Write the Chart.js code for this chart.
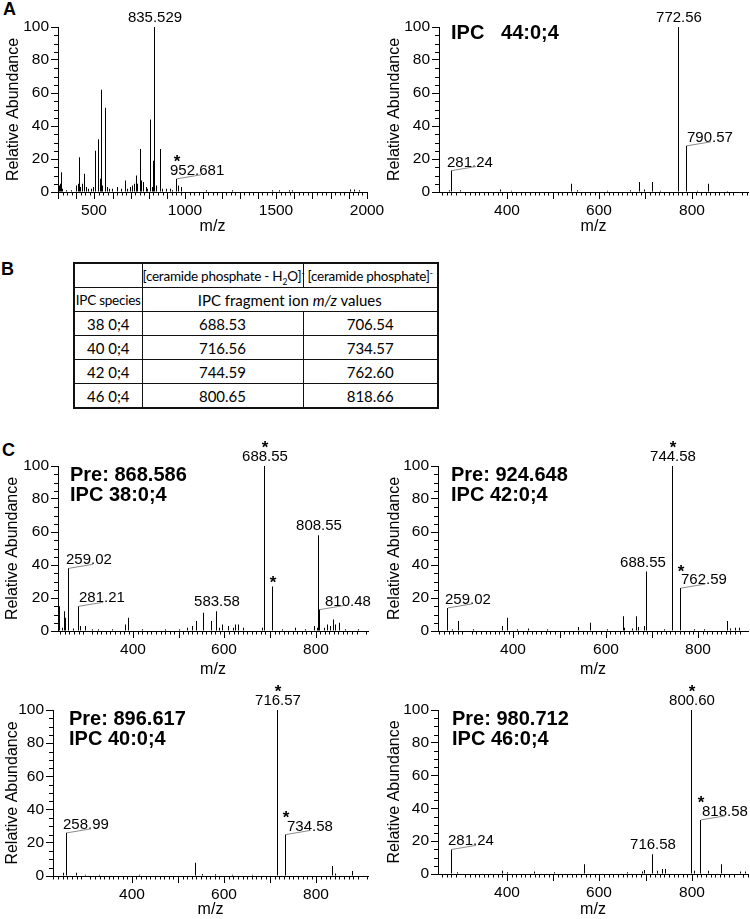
<!DOCTYPE html>
<html>
<head>
<meta charset="utf-8">
<script src="https://cdn.jsdelivr.net/npm/chart.js@4.4.1/dist/chart.umd.min.js"></script>
<style>
  body { margin: 0; background: #fff; width: 750px; height: 919px; position: relative; overflow: hidden;
         font-family: "Liberation Sans", Arial, sans-serif; }
  .panel { position: absolute; }
  .tag { position: absolute; font-weight: bold; font-size: 18px; line-height: 18px; }
  #ipc { position: absolute; left: 73px; top: 262px; width: 364px; table-layout: fixed; border-collapse: collapse;
         border: 2px solid #111; font-family: Lato, "Open Sans", sans-serif; font-size: 15px; }
  #ipc td { border: 1.5px solid #111; height: 23px; padding: 0; text-align: center; white-space: nowrap; }
  #ipc td.tight { font-size: 13.5px; letter-spacing: -0.25px; }
  #ipc sub, #ipc sup { font-size: 8.5px; line-height: 0; letter-spacing: 0; }
</style>
</head>
<body>
<div class="tag" style="left:3px;top:0px">A</div>
<div class="tag" style="left:1px;top:260px">B</div>
<div class="tag" style="left:2px;top:441px">C</div>

<div class="panel" style="left:0;top:0"><canvas id="aLeft" width="395" height="240"></canvas></div>
<div class="panel" style="left:375px;top:0"><canvas id="aRight" width="375" height="240"></canvas></div>

<table id="ipc">
  <colgroup><col style="width:68px"><col style="width:161px"><col style="width:135px"></colgroup>
  <tr><td></td><td class="tight">[ceramide phosphate - H<sub>2</sub>O]<sup>-</sup></td><td class="tight">[ceramide phosphate]<sup>-</sup></td></tr>
  <tr><td class="tight">IPC species</td><td colspan="2">IPC fragment ion <i>m/z</i> values</td></tr>
</table>

<div class="panel" style="left:0;top:435px"><canvas id="cTL" width="375" height="245"></canvas></div>
<div class="panel" style="left:375px;top:435px"><canvas id="cTR" width="375" height="245"></canvas></div>
<div class="panel" style="left:0;top:680px"><canvas id="cBL" width="375" height="239"></canvas></div>
<div class="panel" style="left:375px;top:680px"><canvas id="cBR" width="375" height="239"></canvas></div>

<script>
// ---- A: full scan (left) and MS2 of IPC 44:0;4 (right)
const aLeftMz = [312, 317, 321, 330, 349, 376, 407, 414, 422, 429, 436, 451, 462, 473, 486, 500, 510, 528, 535, 541,
  550, 565, 574, 587, 605, 632, 651, 673, 685, 700, 711, 724, 733, 742, 757, 764, 773, 788, 797, 810,
  821, 826, 835.529, 847, 867, 879, 898, 920, 934, 952.681, 967, 980, 1117, 1264, 1483, 1520, 1575, 1593, 1913, 1932, 1959];
const aLeftAb = [4, 5, 12, 2, 1, 1, 4, 5, 21, 3, 5, 11, 3, 2, 2, 3, 25, 32, 8, 62,
  4, 51, 3, 2, 2, 3, 2, 7, 2, 3, 4, 5, 10, 5, 26, 7, 6, 3, 2, 44,
  3, 19, 100, 4, 26, 2, 2, 2, 1, 8, 4, 3, 1, 1, 1, 1, 1, 1, 1.5, 1.5, 1];
const aLeftLabels = ['835.529', '952.681'];
const aLeftStars = ['952.681'];

const aRightMz = [276, 281.24, 300, 388, 410, 541.7, 554.7, 619, 669.4, 688.2, 699.7, 717, 734, 772.56, 790.57, 813.7, 837.5, 878.6];
const aRightAb = [1, 13, 1, 1.5, 0.8, 5, 1, 0.7, 1, 6, 1.5, 6, 0.8, 100, 28, 0.8, 5, 0.6];
const aRightLabels = ['772.56', '790.57', '281.24'];
const aRightStars = [];

// ---- B: fragment ion table
const species = ['38 0;4', '40 0;4', '42 0;4', '46 0;4'];
const lossWater = [688.53, 716.56, 744.59, 800.65];
const phosphate = [706.54, 734.57, 762.60, 818.66];

// ---- C: MS2 spectra of four precursors
const tlMz = [238.7, 246, 250.4, 253.3, 259.02, 269, 281.21, 284.7, 295.7, 311.8, 326, 355.6, 384.9, 390.7, 421, 472.6, 502, 520, 531, 539.8,
  554.4, 572, 583.58, 591, 596.8, 610.7, 620, 626, 633, 644, 684.6, 688.55, 706.5, 728.4, 758, 779.6, 798, 805, 808.55, 810.48,
  820, 827, 833, 840, 845, 854, 867, 896];
const tlAb = [15, 2, 12, 8, 38, 1.5, 15, 3, 3, 1, 1, 1, 4, 8, 1, 1, 1, 2, 3, 6,
  11, 6, 12, 2, 4, 3, 2, 4, 4, 2, 2, 100, 27, 1, 2, 1, 3, 2, 58, 13,
  2, 4, 3, 7, 4, 5, 1, 1];
const tlLabels = ['688.55', '808.55', '810.48', '583.58', '259.02', '281.21'];
const tlStars = ['688.55', '706.5'];

const trMz = [259.02, 269.5, 282.5, 316, 377.7, 388.5, 410, 433, 475, 541.5, 569, 605, 640, 642.6, 659, 668.5, 671.3, 685.8, 688.55, 727.6,
  744.58, 762.59, 792.6, 814, 865, 872, 882.7, 890];
const trAb = [14, 1, 6, 1, 3, 8, 1, 1.5, 1, 2.5, 5, 1, 9, 2, 1.5, 9, 2.5, 3, 36, 1,
  100, 26, 1, 1, 6, 1.5, 2, 2];
const trLabels = ['744.58', '688.55', '762.59', '259.02'];
const trStars = ['744.58', '762.59'];

const blMz = [253.6, 258.99, 281, 301, 330, 417, 539, 554, 581.8, 619, 662.7, 716.57, 734.58, 836, 843, 879.6];
const blAb = [2, 26, 2, 0.8, 0.8, 0.8, 8, 1.2, 1, 0.8, 0.8, 100, 25, 6, 1.5, 3];
const blLabels = ['716.57', '734.58', '258.99'];
const blStars = ['716.57', '734.58'];

const brMz = [281.24, 294, 391.5, 402, 460, 503, 568, 661.6, 694, 697.6, 716.58, 726, 737, 744, 800.60, 805.6, 818.58, 836, 865, 906.5, 917];
const brAb = [15, 1, 2, 1, 1.5, 1, 6, 1, 1.5, 2.5, 12, 2, 3, 3, 100, 2, 33, 2, 6, 1.5, 1.5];
const brLabels = ['800.60', '818.58', '716.58', '281.24'];
const brStars = ['800.60', '818.58'];

// table rows
const tbl = document.getElementById('ipc');
species.forEach((s, i) => {
  const r = tbl.insertRow();
  [s, lossWater[i].toFixed(2), phosphate[i].toFixed(2)].forEach(t => { r.insertCell().textContent = t; });
});

Chart.defaults.font.family = '"Liberation Sans", Arial, sans-serif';
Chart.defaults.color = '#000';

const panels = [
  { id: 'aLeft', mz: aLeftMz, ab: aLeftAb, labels: aLeftLabels, stars: aLeftStars, title: [],
    min: 300, max: 2000, major: 100, labelStep: 500, minor: 25,
    axisX: 58, padL: 4, padT: 27, padR: 28, xh: 48, titlePad: 4, tx: 0, ty: 0,
    place: [{ side: 'top', dx: 0 }, { side: 'right', dx: -7 }] },
  { id: 'aRight', mz: aRightMz, ab: aRightAb, labels: aRightLabels, stars: aRightStars, title: ['IPC   44:0;4'],
    min: 253, max: 922, major: 100, labelStep: 200, minor: 10,
    axisX: 64, padL: 9.5, padT: 27, padR: 2, xh: 48, titlePad: 4, tx: 12, ty: 12,
    place: [{ side: 'top', dx: 0 }, { side: 'right', dx: 0 }, { side: 'right', dx: -5 }] },
  { id: 'cTL', mz: tlMz, ab: tlAb, labels: tlLabels, stars: tlStars, title: ['Pre: 868.586', 'IPC 38:0;4'],
    min: 235, max: 915, major: 100, labelStep: 200, minor: 10,
    axisX: 58, padL: 3, padT: 31, padR: 7, xh: 49, titlePad: 1, tx: 12, ty: 14.5,
    place: [{ side: 'top', dx: 0 }, { side: 'top', dx: 0 }, { side: 'right', dx: 5 }, { side: 'top', dx: 0 },
            { side: 'right', dx: -3 }, { side: 'right', dx: 0 }] },
  { id: 'cTR', mz: trMz, ab: trAb, labels: trLabels, stars: trStars, title: ['Pre: 924.648', 'IPC 42:0;4'],
    min: 237, max: 908, major: 100, labelStep: 200, minor: 10,
    axisX: 63, padL: 9.5, padT: 31, padR: 2, xh: 49, titlePad: 1, tx: 13, ty: 14.5,
    place: [{ side: 'top', dx: 0 }, { side: 'top', dx: -4 }, { side: 'right', dx: 0 }, { side: 'right', dx: -3 }] },
  { id: 'cBL', mz: blMz, ab: blAb, labels: blLabels, stars: blStars, title: ['Pre: 896.617', 'IPC 40:0;4'],
    min: 229, max: 912, major: 100, labelStep: 200, minor: 10,
    axisX: 53, padL: 3, padT: 30, padR: 7, xh: 43, titlePad: 0, tx: 16, ty: 14.5,
    place: [{ side: 'top', dx: 0 }, { side: 'right', dx: 1 }, { side: 'right', dx: -4 }] },
  { id: 'cBR', mz: brMz, ab: brAb, labels: brLabels, stars: brStars, title: ['Pre: 980.712', 'IPC 46:0;4'],
    min: 251, max: 921, major: 100, labelStep: 200, minor: 10,
    axisX: 63, padL: 9.5, padT: 30, padR: 2, xh: 45, titlePad: 0, tx: 14, ty: 14.5,
    place: [{ side: 'top', dx: 0 }, { side: 'right', dx: 1 }, { side: 'top', dx: 0 }, { side: 'right', dx: -4 }] }
];
const panelOf = {};
panels.forEach(p => { panelOf[p.id] = p; });

// minor ticks, peak labels, asterisks and the bold panel captions
const specPlugin = {
  id: 'spec',
  afterDraw(chart) {
    const o = panelOf[chart.canvas.id];
    const { ctx, chartArea: a, scales: { x, y } } = chart;
    ctx.save();
    ctx.strokeStyle = '#000';
    ctx.lineWidth = 1;
    ctx.beginPath();
    for (let i = Math.ceil(o.min / o.minor); i * o.minor <= o.max; i++) {
      const v = i * o.minor;
      if (v % o.major === 0) continue;
      const px = Math.round(x.getPixelForValue(v)) + 0.5;
      ctx.moveTo(px, a.bottom);
      ctx.lineTo(px, a.bottom + 3.5);
    }
    for (let v = 5; v < 100; v += 5) {
      if (v % 20 === 0) continue;
      const py = Math.round(y.getPixelForValue(v)) + 0.5;
      ctx.moveTo(a.left, py);
      ctx.lineTo(a.left - 4, py);
    }
    ctx.stroke();

    const peakTop = v => {
      const i = o.mz.findIndex(m => Math.abs(m - v) < 1e-6);
      return { px: x.getPixelForValue(v), py: y.getPixelForValue(o.ab[i]) };
    };

    ctx.font = '15px "Liberation Sans", Arial, sans-serif';
    ctx.fillStyle = '#000';
    const labelMid = {};
    o.labels.forEach((t, k) => {
      const { px, py } = peakTop(parseFloat(t));
      const s = o.place[k];
      let base;
      if (s.side === 'top') {
        base = py - 5;
        ctx.textAlign = 'center';
        ctx.fillText(t, px + s.dx, base);
      } else {
        base = py - 4;
        ctx.textAlign = 'left';
        ctx.fillText(t, px + s.dx, base);
        ctx.strokeStyle = '#8a8a8a';
        ctx.beginPath();
        ctx.moveTo(px, py);
        ctx.lineTo(px + 24, py - 4);
        ctx.stroke();
      }
      labelMid[t] = base - 5.4;
    });

    ctx.font = 'bold 17px "Liberation Sans", Arial, sans-serif';
    ctx.textAlign = 'center';
    o.stars.forEach(t => {
      const { px, py } = peakTop(parseFloat(t));
      const cy = (t in labelMid) ? labelMid[t] - 12 : py - 8;
      ctx.fillText('*', px, cy + 9.8);
    });

    ctx.font = 'bold 20px "Liberation Sans", Arial, sans-serif';
    ctx.textAlign = 'left';
    o.title.forEach((line, k) => ctx.fillText(line, a.left + o.tx, a.top + o.ty + k * 20));
    ctx.restore();
  }
};

panels.forEach(o => {
  new Chart(document.getElementById(o.id), {
    type: 'bar',
    data: {
      datasets: [
        { data: o.mz.map((m, i) => ({ x: m, y: o.ab[i] })), backgroundColor: '#000',
          barThickness: 1, borderWidth: 0, inflateAmount: 0 },
        // empty companion set: shifts the 1px bars half a pixel so they land on whole pixels
        { data: [], barThickness: 1 }
      ]
    },
    options: {
      responsive: false,
      animation: false,
      devicePixelRatio: 1,
      layout: { padding: { left: o.padL, top: o.padT, right: o.padR, bottom: 0 } },
      plugins: { legend: { display: false }, tooltip: { enabled: false } },
      scales: {
        x: {
          type: 'linear', min: o.min, max: o.max, offset: false, alignToPixels: true,
          afterBuildTicks: s => { s.ticks = s.ticks.filter(t => t.value % o.major === 0); },
          afterFit: s => { s.height = o.xh; s.paddingLeft = 0; s.paddingRight = 0; },
          ticks: { autoSkip: false, maxRotation: 0, stepSize: o.major, padding: 2, color: '#000', font: { size: 15.5 },
                   callback: v => (v % o.labelStep === 0 ? String(v) : '') },
          grid: { drawOnChartArea: false, offset: false, tickLength: 7, tickColor: '#000' },
          border: { color: '#000', width: 1 },
          title: { display: true, text: 'm/z', color: '#000', font: { size: 16 }, padding: { top: 0, bottom: o.titlePad } }
        },
        y: {
          min: 0, max: 100,
          afterFit: s => { s.width = o.axisX - o.padL; s.paddingTop = 0; s.paddingBottom = 0; },
          ticks: { stepSize: 20, padding: 2, color: '#000', font: { size: 15.5 } },
          grid: { drawOnChartArea: false, tickLength: 7, tickColor: '#000' },
          border: { color: '#000', width: 1 },
          title: { display: true, text: 'Relative Abundance', color: '#000', font: { size: 16 }, padding: 0 }
        }
      }
    },
    plugins: [specPlugin]
  });
});
</script>
</body>
</html>
